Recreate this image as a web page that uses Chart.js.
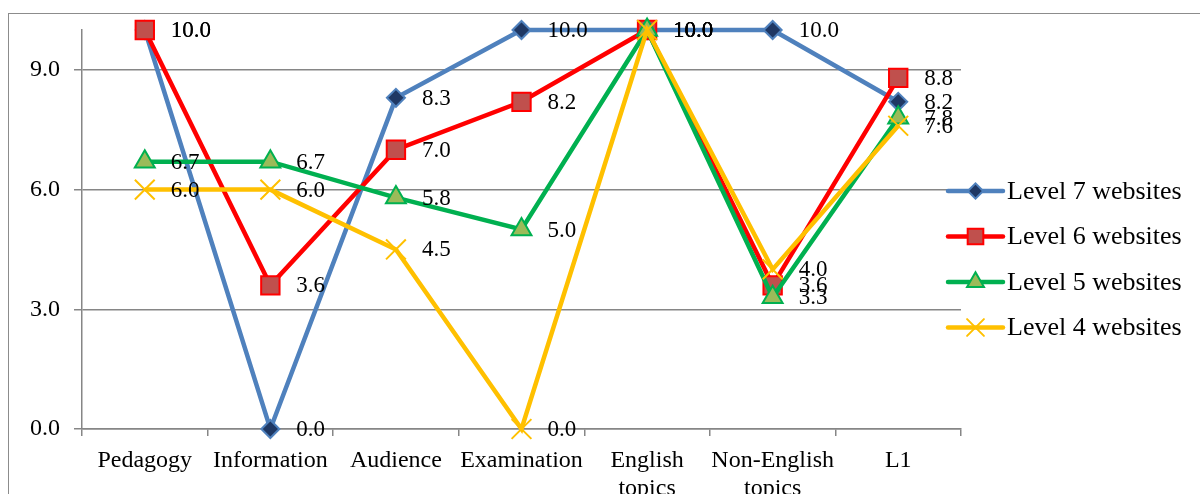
<!DOCTYPE html>
<html>
<head>
<meta charset="utf-8">
<script src="https://cdn.jsdelivr.net/npm/chart.js@4.4.0/dist/chart.umd.min.js"></script>
<style>
html, body { margin: 0; padding: 0; background: #fff; }
#wrap { position: relative; width: 1200px; height: 494px; overflow: hidden; }
#frame { position: absolute; left: 8px; top: 13px; width: 1300px; height: 600px; border: 1.5px solid #8c8c8c; }
canvas { position: absolute; left: 0; top: 0; }
</style>
</head>
<body>
<div id="wrap">
  <div id="frame"></div>
  <canvas id="lineChart" width="1200" height="494"></canvas>
</div>
<script>
const categories = ['Pedagogy', 'Information', 'Audience', 'Examination', ['English', 'topics'], ['Non-English', 'topics'], 'L1'];
const level7 = [10.0, 0.0, 8.3, 10.0, 10.0, 10.0, 8.2];
const level6 = [10.0, 3.6, 7.0, 8.2, 10.0, 3.6, 8.8];
const level5 = [6.7, 6.7, 5.8, 5.0, 10.0, 3.3, 7.8];
const level4 = [6.0, 6.0, 4.5, 0.0, 10.0, 4.0, 7.6];
const yTicks = [0, 3, 6, 9];

const serif = '"Liberation Serif", "Times New Roman", serif';
Chart.defaults.font.family = serif;
Chart.defaults.font.size = 24;
Chart.defaults.color = '#000';

// value labels to the right of each point
const valueLabels = {
    id: 'valueLabels',
    afterDatasetsDraw(chart) {
        const ctx = chart.ctx;
        ctx.save();
        ctx.font = '23px ' + serif;
        ctx.fillStyle = '#000';
        ctx.textBaseline = 'middle';
        ctx.textAlign = 'left';
        chart.data.datasets.forEach((ds, i) => {
            chart.getDatasetMeta(i).data.forEach((pt, j) => {
                ctx.fillText(ds.data[j].toFixed(1), pt.x + 26, pt.y + 1);
            });
        });
        ctx.restore();
    }
};

// legend drawn as line + marker, like the original
const lineLegend = {
    id: 'lineLegend',
    afterDraw(chart) {
        const ctx = chart.ctx;
        const x0 = 948, x1 = 1003, top = 191, gap = 45.5;
        chart.data.datasets.forEach((ds, i) => {
            const y = top + i * gap;
            ctx.save();
            ctx.strokeStyle = ds.borderColor;
            ctx.lineWidth = 4.5;
            ctx.lineCap = 'round';
            ctx.beginPath();
            ctx.moveTo(x0, y);
            ctx.lineTo(x1, y);
            ctx.stroke();
            ctx.fillStyle = ds.pointBackgroundColor;
            ctx.strokeStyle = ds.pointBorderColor;
            ctx.lineWidth = ds.pointBorderWidth;
            Chart.helpers.drawPoint(ctx, {
                pointStyle: ds.pointStyle,
                radius: ds.pointRadius * 0.85,
                rotation: 0,
                borderWidth: ds.pointBorderWidth
            }, (x0 + x1) / 2, y);
            ctx.font = '26px ' + serif;
            ctx.fillStyle = '#000';
            ctx.textBaseline = 'middle';
            ctx.fillText(ds.label, 1007, y + 1);
            ctx.restore();
        });
    }
};

const ctx = document.getElementById('lineChart').getContext('2d');
new Chart(ctx, {
    type: 'line',
    data: {
        labels: categories,
        datasets: [
            {
                label: 'Level 7 websites',
                data: level7,
                borderColor: '#4F81BD',
                borderWidth: 4.5,
                pointStyle: 'rectRot',
                pointRadius: 9,
                pointBackgroundColor: '#1F3864',
                pointBorderColor: '#4F81BD',
                pointBorderWidth: 2,
                order: 4
            },
            {
                label: 'Level 6 websites',
                data: level6,
                borderColor: '#FF0000',
                borderWidth: 4.5,
                pointStyle: 'rect',
                pointRadius: 13,
                pointBackgroundColor: '#C0504D',
                pointBorderColor: '#FF0000',
                pointBorderWidth: 2,
                order: 3
            },
            {
                label: 'Level 5 websites',
                data: level5,
                borderColor: '#00B050',
                borderWidth: 4.5,
                pointStyle: 'triangle',
                pointRadius: 11.5,
                pointBackgroundColor: '#9BBB59',
                pointBorderColor: '#00B050',
                pointBorderWidth: 2,
                order: 2
            },
            {
                label: 'Level 4 websites',
                data: level4,
                borderColor: '#FFC000',
                borderWidth: 4.5,
                pointStyle: 'crossRot',
                pointRadius: 14,
                pointBackgroundColor: '#FFC000',
                pointBorderColor: '#FFC000',
                pointBorderWidth: 2,
                order: 1
            }
        ]
    },
    options: {
        responsive: false,
        animation: false,
        clip: false,
        layout: { padding: { top: 30, right: 239, left: 0, bottom: 0 } },
        elements: { line: { tension: 0 } },
        plugins: {
            legend: { display: false },
            tooltip: { enabled: false }
        },
        scales: {
            x: {
                offset: true,
                grid: { display: true, drawOnChartArea: false, offset: true, tickLength: 7, color: '#868686', lineWidth: 1.5 },
                border: { color: '#868686', width: 1.5 },
                ticks: { padding: 10, maxRotation: 0, autoSkip: false, font: { size: 24, lineHeight: 1.2 } },
                afterFit(scale) { scale.height = 65; }
            },
            y: {
                min: 0,
                max: 10,
                afterBuildTicks(scale) { scale.ticks = yTicks.map(v => ({ value: v })); },
                grid: { color: '#868686', lineWidth: 1.5, tickLength: 8 },
                border: { color: '#868686', width: 1.5 },
                ticks: { padding: 14, callback: v => v.toFixed(1), font: { size: 24 } },
                afterFit(scale) { scale.width = 82; }
            }
        }
    },
    plugins: [valueLabels, lineLegend]
});
</script>
</body>
</html>
